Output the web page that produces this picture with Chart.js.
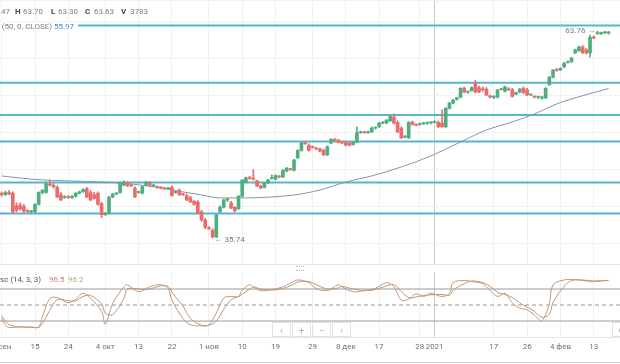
<!DOCTYPE html>
<html>
<head>
<meta charset="utf-8">
<script src="https://cdn.jsdelivr.net/npm/chart.js@4.4.1/dist/chart.umd.min.js"></script>
<style>
  html, body { margin: 0; padding: 0; background: #fff; }
  #wrap { position: relative; width: 620px; height: 364px; overflow: hidden; font-family: Roboto, "Open Sans", sans-serif; }
  #mainChart { position: absolute; left: 0; top: 0; }
  #stochChart { position: absolute; left: 0; top: 264px; }
  .t { position: absolute; font-size: 8px; line-height: 10px; color: #808080; white-space: nowrap; }
  .t b { color: #444; }
  .bg { background: #fff; }
  .hl { position: absolute; left: 0; width: 620px; height: 1px; }
  .btn { position: absolute; top: 322px; width: 19px; height: 15px; border: 1px solid #e2e2e2; background: rgba(255,255,255,0.9);
         color: #b0b0b0; font-size: 10px; line-height: 15px; text-align: center; box-sizing: border-box; }
</style>
</head>
<body>
<div id="wrap">
  <canvas id="mainChart" width="620" height="264"></canvas>
  <canvas id="stochChart" width="620" height="100"></canvas>

  <div class="hl" style="top:264px;background:#e4e4e4"></div>
  <div class="hl" style="top:337px;background:#e6e6e6"></div>
  <div class="hl" style="top:362px;background:#d0d0d0"></div>
  <div style="position:absolute;left:296px;top:266px;width:8px;height:3px;border-top:1px dotted #bbb;border-bottom:1px dotted #bbb"></div>

  <div class="t bg" style="left:-300px;top:7px;width:310px;text-align:right"><b>O</b> 63.47</div>
  <div class="t" style="left:15px;top:7px"><b>H</b></div><div class="t" style="left:23px;top:7px">63.70</div>
  <div class="t" style="left:51px;top:7px"><b>L</b></div><div class="t" style="left:58px;top:7px">63.30</div>
  <div class="t" style="left:85px;top:7px"><b>C</b></div><div class="t" style="left:94px;top:7px">63.63</div>
  <div class="t" style="left:121px;top:7px"><b>V</b></div><div class="t" style="left:130px;top:7px">3783</div>

  <div class="t bg" style="left:-300px;top:22px;width:352px;text-align:right">SMA (50, 0, CLOSE)</div>
  <div class="t bg" style="left:52px;top:22px;width:26px;color:#4a8fc4">&nbsp;55.97</div>

  <div class="t bg" style="left:-300px;top:275px;width:341px;text-align:right;color:#555">Stoch Osc (14, 3, 3)</div>
  <div class="t" style="left:49px;top:275px;color:#d27c7c">96.5</div>
  <div class="t" style="left:68px;top:275px;color:#a7b56e">96.2</div>

  <div class="btn" style="left:272px">&#8249;</div>
  <div class="btn" style="left:292px">+</div>
  <div class="btn" style="left:312px">&minus;</div>
  <div class="btn" style="left:332px">&#8250;</div>
  <div class="btn" style="left:612px">&#8634;</div>
</div>
<script>
// trading days from 6 sep 2020 (index 0) to 17 feb 2021 (index 164)
const tickIdx = [0, 9, 18, 28, 37, 46, 56, 65, 74, 84, 93, 102, 113, 117, 133, 142, 151, 160];
const tickLabels = ['6 сен', '15', '24', '4 окт', '13', '22', '1 ноя', '10', '19', '29', '8 дек', '17', '28', '2021', '17', '26', '4 фев', '13'];

const openP = [
  41.8,41.6,41.9,41.8,40.1,40.2,40.0,39.4,39.3,
  39.3,40.3,41.9,41.9,43.0,42.9,42.6,41.6,41.2,41.3,
  41.2,41.4,41.8,42.0,42.4,41.9,41.6,41.8,40.4,38.9,
  39.1,41.3,41.7,41.9,42.9,43.2,42.9,42.5,41.9,41.8,
  42.9,43.2,42.8,42.7,42.6,42.5,42.4,42.6,41.9,42.2,
  41.7,41.5,41.2,40.7,40.6,39.3,38.2,37.1,36.8,35.9,
  39.3,39.9,40.9,40.5,39.9,39.7,41.4,43.3,43.9,43.8,
  43.5,42.8,42.6,43.2,43.8,43.7,44.1,44.0,44.8,45.1,
  44.9,46.6,47.6,48.6,48.3,48.1,47.9,47.8,47.6,47.0,
  48.6,49.1,49.0,48.7,48.7,48.6,48.4,48.7,50.0,50.1,
  50.0,50.1,50.6,50.8,51.3,51.3,51.6,52.1,51.4,50.6,
  49.4,49.3,51.4,51.1,51.1,51.2,51.3,51.3,51.4,51.4,
  51.3,50.8,53.3,54.0,54.5,54.8,56.0,55.5,55.7,56.6,
  56.1,55.9,55.9,55.0,54.8,54.8,55.8,55.6,55.9,55.8,
  55.2,55.5,56.0,55.8,55.1,54.9,54.8,54.7,54.7,56.5,
  57.5,58.5,58.5,58.9,59.5,59.6,60.8,61.1,61.6,61.2,
  60.8,62.9,63.4,63.4,63.5,63.47
];
const highP = [
  42.0,42.1,42.2,42.0,40.5,40.5,40.3,39.6,39.5,
  40.4,42.0,42.3,43.3,43.6,43.1,42.8,41.9,41.5,41.5,
  41.5,41.9,42.1,42.4,42.6,42.2,41.9,42.0,40.6,39.2,
  41.4,41.8,41.9,43.3,43.5,43.4,43.0,42.7,42.1,42.8,
  43.4,43.4,43.0,42.8,42.7,42.6,42.6,42.8,42.1,42.4,
  41.8,41.7,41.4,40.8,40.8,39.5,38.4,37.3,37.0,38.9,
  40.1,41.0,41.1,40.7,40.0,41.5,43.6,44.0,44.1,45.0,
  43.6,42.9,43.3,43.7,44.3,44.3,44.2,45.0,45.3,45.2,
  46.4,47.7,48.7,48.8,48.5,48.2,48.0,47.9,47.8,48.2,
  49.2,49.2,49.1,48.8,48.8,48.7,48.8,50.8,50.2,50.2,
  50.2,50.8,50.8,51.4,51.5,51.8,52.3,52.5,51.6,50.8,
  49.6,51.5,51.6,51.2,51.3,51.4,51.4,51.5,51.6,51.6,
  53.1,53.4,54.1,54.5,54.8,56.1,56.2,55.6,56.2,57.1,
  56.3,56.2,56.1,55.1,55.0,55.8,56.0,56.3,56.1,56.0,
  55.5,56.0,56.2,56.0,55.2,55.0,54.9,54.9,56.1,57.6,
  58.5,58.7,58.8,59.5,59.7,60.2,61.3,61.7,61.8,61.4,
  63.2,63.1,63.76,63.6,63.7,63.70
];
const lowP = [
  41.4,41.5,41.6,39.1,39.3,39.5,39.2,39.2,39.1,
  39.1,40.2,41.7,41.8,42.8,42.5,41.2,40.8,41.1,41.1,
  41.1,41.3,41.7,41.9,41.2,40.8,41.0,40.2,38.5,38.8,
  39.0,41.2,41.6,41.8,42.8,42.7,42.7,41.2,41.8,41.7,
  42.8,42.8,42.7,42.5,42.4,42.3,42.3,41.4,41.8,41.5,
  41.5,40.8,40.6,40.2,39.0,38.0,37.0,36.9,35.74,35.8,
  39.2,39.8,40.7,39.7,39.3,39.6,41.3,43.2,43.7,43.6,
  42.7,42.4,42.5,43.1,43.7,43.6,43.9,43.9,44.7,44.9,
  44.8,46.5,47.5,48.4,47.5,47.9,47.7,47.4,46.9,46.9,
  48.5,48.9,48.6,48.5,48.2,48.2,48.3,48.6,49.9,49.9,
  49.9,50.0,50.5,50.7,51.2,51.2,51.5,51.2,50.0,49.2,
  49.3,49.2,51.0,50.9,51.0,51.1,51.1,51.2,51.3,50.7,
  50.7,50.7,53.2,53.9,54.4,54.7,55.4,55.3,55.6,55.4,
  55.4,55.6,55.0,54.7,54.6,54.7,55.8,55.5,55.7,54.8,
  55.1,55.4,55.3,55.0,55.0,54.7,54.6,54.5,54.6,56.4,
  57.4,58.3,58.4,58.8,59.4,59.5,60.7,61.0,60.7,60.6,
  60.2,62.7,63.3,63.3,63.4,63.30
];
const closeP = [
  41.6,41.9,41.7,39.3,39.5,39.7,39.4,39.3,39.3,
  40.3,41.9,42.2,43.1,42.9,42.7,41.3,40.9,41.3,41.2,
  41.4,41.8,42.0,42.3,41.3,40.9,41.1,40.3,38.9,39.0,
  41.3,41.7,41.8,43.2,43.3,42.8,42.8,41.3,42.0,42.7,
  43.3,42.9,42.8,42.6,42.5,42.4,42.5,41.5,42.0,41.6,
  41.6,40.9,40.6,40.3,39.1,38.2,37.2,37.0,35.9,38.9,
  39.9,40.9,40.9,39.8,39.4,41.4,43.6,43.9,43.8,43.7,
  42.8,42.5,43.2,43.6,43.9,44.2,44.0,44.9,45.2,45.0,
  46.3,47.6,48.6,48.5,47.6,48.0,47.8,47.5,47.0,48.1,
  49.1,49.0,48.7,48.6,48.3,48.3,48.7,50.0,50.1,50.0,
  50.1,50.6,50.7,51.3,51.4,51.7,52.2,51.3,50.1,49.3,
  49.5,51.4,51.1,51.0,51.2,51.3,51.3,51.4,51.5,50.8,
  50.8,53.3,54.0,54.4,54.7,56.0,55.5,55.5,56.1,55.5,
  55.5,55.8,55.1,54.8,54.8,55.8,55.9,56.2,55.8,54.9,
  55.4,55.9,55.4,55.1,55.1,54.8,54.8,54.7,56.0,57.5,
  58.5,58.4,58.7,59.4,59.6,60.1,61.2,61.6,60.8,60.8,
  62.9,62.8,63.5,63.5,63.6,63.63
];

// SMA(50)
const smaIdx  = [0, 9, 18, 27, 35, 43, 49, 54, 59, 66, 73, 81, 87, 93, 100, 108, 116, 124, 131, 138, 144, 150, 157, 164];
const smaVals = [44.14, 43.67, 43.47, 43.33, 43.06, 42.52, 41.98, 41.57, 41.17, 41.17, 41.30, 41.71, 42.38, 43.33, 44.14, 45.36, 46.85, 48.74, 50.36, 51.45, 52.53, 53.89, 55.0, 55.97];

// horizontal levels
const levels = [64.50, 56.76, 52.39, 48.81, 43.26, 39.06];

// stochastic (14,3,3)
const stochIdx = [0,1,2,5,8,10,11,13,15,18,20,22,24,27,28,30,33,34,37,40,43,45,46,49,51,54,56,58,60,62,64,65,67,68,70,73,76,78,80,83,85,88,91,92,95,99,101,104,106,108,110,112,114,116,119,121,122,125,127,130,132,134,136,138,140,142,144,146,148,149,152,154,157,160,164];
const stochK = [25,13,8,9,8,9,28,62,64,54,61,72,63,38,14,53,84,88,75,84,88,81,59,25,13,11,13,35,63,66,66,78,88,84,77,79,84,91,97,92,81,77,88,84,75,78,81,92,84,59,61,71,66,72,66,72,92,96,94,90,77,66,72,54,44,41,31,21,53,88,97,98,96,94,96.5];
const stochD = [30,20,13,9,9,8,15,40,60,58,58,66,68,52,35,32,62,80,80,80,86,85,74,48,25,12,12,20,42,60,66,70,80,84,80,78,81,86,93,94,88,80,82,85,80,77,79,86,88,75,64,65,68,69,70,68,78,90,95,92,85,74,70,64,54,46,38,27,33,55,85,96,97,95,96.2];
const stochLevels = [80, 50, 20];

const UP = '#4fae7e';
const DOWN = '#ec6b6b';
const LEVEL = '#56b6ca';
const X_MIN = -0.46, X_MAX = 167.1;
const candleColor = ctx => closeP[ctx.dataIndex] >= openP[ctx.dataIndex] ? UP : DOWN;
const gridColor = ctx => (ctx.tick && ctx.tick.value === 117) ? '#c9c9c9' : '#f0f0f0';

function xAxis(showLabels) {
  return {
    type: 'linear', min: X_MIN, max: X_MAX, offset: false,
    afterBuildTicks: axis => { axis.ticks = tickIdx.map(v => ({ value: v })); },
    afterFit: axis => {
      axis.height = showLabels ? 27 : 0;
      axis.paddingLeft = 0;
      axis.paddingRight = 0;
    },
    grid: { color: gridColor, drawTicks: false, offset: false },
    border: { display: false },
    ticks: {
      display: showLabels, autoSkip: false, maxRotation: 0, padding: 5,
      color: '#6f6f6f', font: { family: 'Roboto', size: 8 },
      callback: (v, i) => tickLabels[i]
    }
  };
}

const extremesLabels = {
  id: 'extremesLabels',
  afterDatasetsDraw(chart) {
    const { ctx, scales: { x, y } } = chart;
    const hi = highP.indexOf(Math.max(...highP));
    const lo = lowP.indexOf(Math.min(...lowP));
    ctx.save();
    ctx.font = '8px Roboto';
    ctx.fillStyle = '#7a7a7a';
    ctx.textBaseline = 'middle';
    ctx.textAlign = 'left';
    ctx.fillText('\u2190 ' + lowP[lo].toFixed(2), x.getPixelForValue(lo) + 2, y.getPixelForValue(lowP[lo]) + 2);
    ctx.textAlign = 'right';
    ctx.fillText(highP[hi].toFixed(2) + ' \u2192', x.getPixelForValue(hi) - 2, y.getPixelForValue(highP[hi]));
    ctx.restore();
  }
};

new Chart(document.getElementById('mainChart'), {
  type: 'bar',
  data: {
    datasets: [
      {
        data: openP.map((o, i) => ({ x: i, y: [o, closeP[i]] })),
        backgroundColor: candleColor, barThickness: 3, minBarLength: 1, grouped: false, order: 0
      },
      {
        data: highP.map((h, i) => ({ x: i, y: [lowP[i], h] })),
        backgroundColor: candleColor, barThickness: 1, grouped: false, order: 1
      },
      {
        type: 'line',
        data: smaIdx.map((v, k) => ({ x: v, y: smaVals[k] })),
        borderColor: '#8793a9', borderWidth: 1, pointRadius: 0, cubicInterpolationMode: 'monotone', order: 2
      },
      ...levels.map(l => ({
        type: 'line',
        data: [{ x: X_MIN, y: l }, { x: X_MAX, y: l }],
        borderColor: LEVEL, borderWidth: 2, pointRadius: 0, order: 3
      }))
    ]
  },
  options: {
    responsive: false, animation: false, devicePixelRatio: 1,
    layout: { padding: 0, autoPadding: false },
    plugins: { legend: { display: false }, tooltip: { enabled: false } },
    scales: {
      x: xAxis(false),
      y: {
        min: 32.23, max: 67.95,
        afterFit: axis => { axis.width = 0; },
        ticks: { display: false, stepSize: 5 },
        grid: { color: '#f2f2f2', drawTicks: false },
        border: { display: false }
      }
    }
  },
  plugins: [extremesLabels]
});

new Chart(document.getElementById('stochChart'), {
  type: 'line',
  data: {
    datasets: [
      {
        data: stochIdx.map((v, k) => ({ x: v, y: stochK[k] })),
        borderColor: '#c4967c', borderWidth: 1, pointRadius: 0, tension: 0.35, order: 0
      },
      {
        data: stochIdx.map((v, k) => ({ x: v, y: stochD[k] })),
        borderColor: '#b39a78', borderWidth: 1, pointRadius: 0, tension: 0.35, order: 1
      },
      ...stochLevels.map(l => ({
        data: [{ x: X_MIN, y: l }, { x: X_MAX, y: l }],
        borderColor: '#9a9a9a', borderWidth: 1, pointRadius: 0,
        borderDash: l === 50 ? [4, 3] : [], order: 2
      }))
    ]
  },
  options: {
    responsive: false, animation: false, devicePixelRatio: 1,
    layout: { padding: { top: 8, left: 0, right: 0, bottom: 0 }, autoPadding: false },
    plugins: { legend: { display: false }, tooltip: { enabled: false } },
    scales: {
      x: xAxis(true),
      y: {
        min: -9.9, max: 111.9,
        afterFit: axis => { axis.width = 0; },
        ticks: { display: false },
        grid: { display: false },
        border: { display: false }
      }
    }
  }
});
</script>
</body>
</html>
